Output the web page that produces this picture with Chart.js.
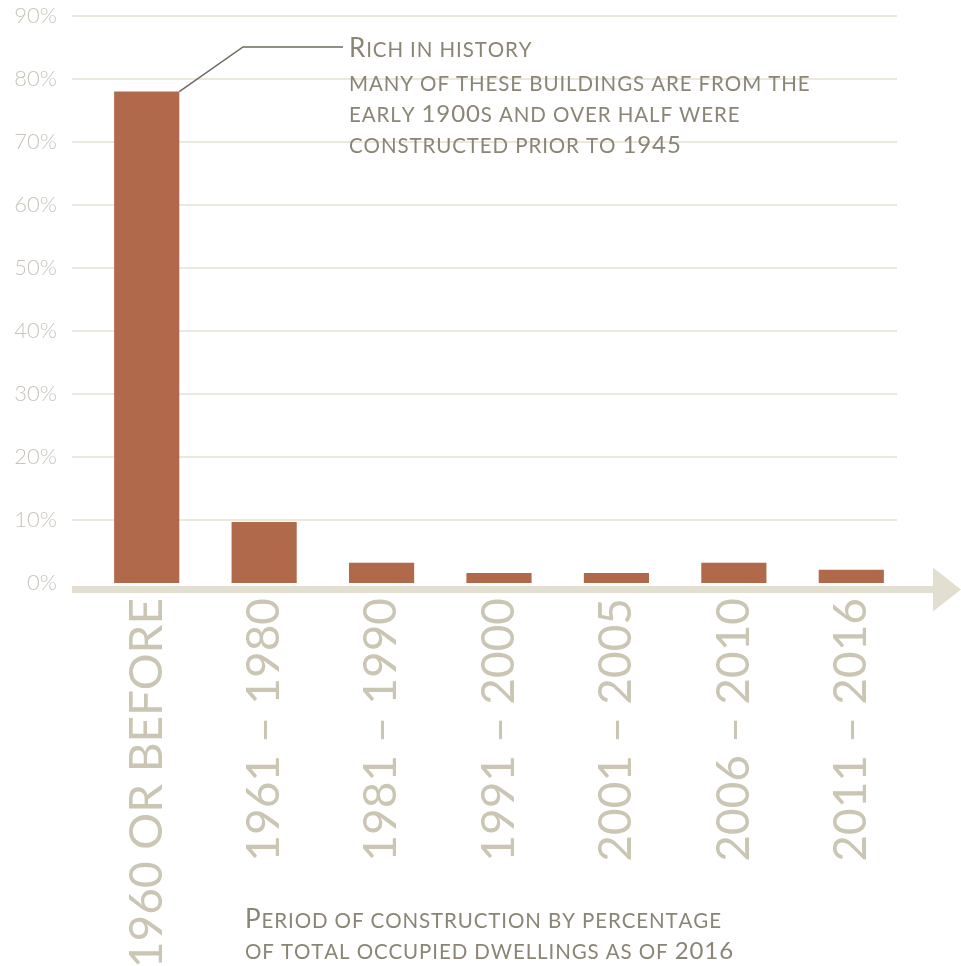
<!DOCTYPE html>
<html>
<head>
<meta charset="utf-8">
<script src="https://cdn.jsdelivr.net/npm/chart.js@4/dist/chart.umd.min.js"></script>
<style>
  html, body { margin: 0; padding: 0; background: #fff; }
  #wrap { width: 961px; height: 966px; }
</style>
</head>
<body>
<div id="wrap"><canvas id="chart" width="961" height="966"></canvas></div>
<script>
// Periods of construction and share of occupied dwellings (%)
const periods = ['1960 OR BEFORE', '1961 – 1980', '1981 – 1990', '1991 – 2000', '2001 – 2005', '2006 – 2010', '2011 – 2016'];
const shares = [78, 9.7, 3.2, 1.6, 1.6, 3.2, 2.1];
const yTicks = [0, 10, 20, 30, 40, 50, 60, 70, 80, 90];

const noteLines = ['Rich in history', 'many of these buildings are from the', 'early 1900s and over half were', 'constructed prior to 1945'];
const captionLines = ['Period of construction by percentage', 'of total occupied dwellings as of 2016'];

const BAR = '#b06a4b';
const GRID = '#ebe8dd';
const AXIS = '#e3dfd0';
const TEXT = '#8a8574';

// small caps by hand: capitals big, digits medium, lowercase as small capitals
function smallCaps(ctx, text, x, y) {
  let cx = x;
  for (const ch of text) {
    let size = 20.5;
    if (/[0-9]/.test(ch)) size = 24;
    else if (ch !== ch.toLowerCase()) size = 26;
    ctx.font = `400 ${size}px Lato`;
    const c = ch.toUpperCase();
    ctx.fillText(c, cx, y);
    cx += ctx.measureText(c).width + 0.9;
  }
}

// grid lines, axis band with arrow, callout and caption
const decor = {
  id: 'decor',
  beforeDatasetsDraw(chart) {
    const { ctx, scales: { y } } = chart;
    ctx.save();
    ctx.strokeStyle = GRID;
    ctx.lineWidth = 2;
    yTicks.slice(1).forEach(v => {
      const py = Math.round(y.getPixelForValue(v));
      ctx.beginPath();
      ctx.moveTo(72, py);
      ctx.lineTo(897, py);
      ctx.stroke();
    });
    ctx.restore();
  },
  afterDatasetsDraw(chart) {
    const { ctx, scales: { y } } = chart;
    const base = y.getPixelForValue(0);
    const cy = base + 6.5;
    ctx.save();
    ctx.fillStyle = AXIS;
    ctx.fillRect(72, cy - 3.5, 863, 7);
    ctx.beginPath();
    ctx.moveTo(933, cy - 22);
    ctx.lineTo(961, cy);
    ctx.lineTo(933, cy + 22);
    ctx.closePath();
    ctx.fill();

    // leader from the first bar to the note
    const b = chart.getDatasetMeta(0).data[0];
    ctx.strokeStyle = '#6e6b5e';
    ctx.lineWidth = 1.5;
    ctx.beginPath();
    ctx.moveTo(b.x + b.width / 2, b.y);
    ctx.lineTo(243, 47);
    ctx.lineTo(343, 47);
    ctx.stroke();

    ctx.fillStyle = TEXT;
    ctx.textBaseline = 'alphabetic';
    ctx.textAlign = 'left';
    const noteY = [57, 91, 122, 153];
    noteLines.forEach((t, i) => smallCaps(ctx, t, 349, noteY[i]));
    const capY = [928, 959];
    captionLines.forEach((t, i) => smallCaps(ctx, t, 245, capY[i]));
    ctx.restore();
  }
};

new Chart(document.getElementById('chart'), {
  type: 'bar',
  data: {
    labels: periods,
    datasets: [{ data: shares, backgroundColor: BAR, barPercentage: 0.555, categoryPercentage: 1 }]
  },
  options: {
    responsive: false,
    animation: false,
    layout: { padding: { top: 16, right: 51, left: 0, bottom: 0 } },
    plugins: { legend: { display: false }, tooltip: { enabled: false } },
    scales: {
      x: {
        grid: { display: false, drawTicks: false },
        border: { display: false },
        ticks: {
          color: '#cbc6b3',
          font: { family: 'Lato', size: 46, weight: 400 },
          minRotation: 90, maxRotation: 90, padding: 15, autoSkip: false
        },
        afterFit(s) { s.height = 383; s.paddingLeft = 0; s.paddingRight = 0; }
      },
      y: {
        min: 0, max: 90,
        grid: { display: false, drawTicks: false },
        border: { display: false },
        ticks: {
          stepSize: 10,
          color: '#c8c4bb',
          font: { family: 'Lato', size: 22, weight: 300 },
          padding: 31,
          callback: v => v + '%'
        },
        afterFit(s) { s.width = 88; s.paddingTop = 0; s.paddingBottom = 0; }
      }
    }
  },
  plugins: [decor]
});
</script>
</body>
</html>
